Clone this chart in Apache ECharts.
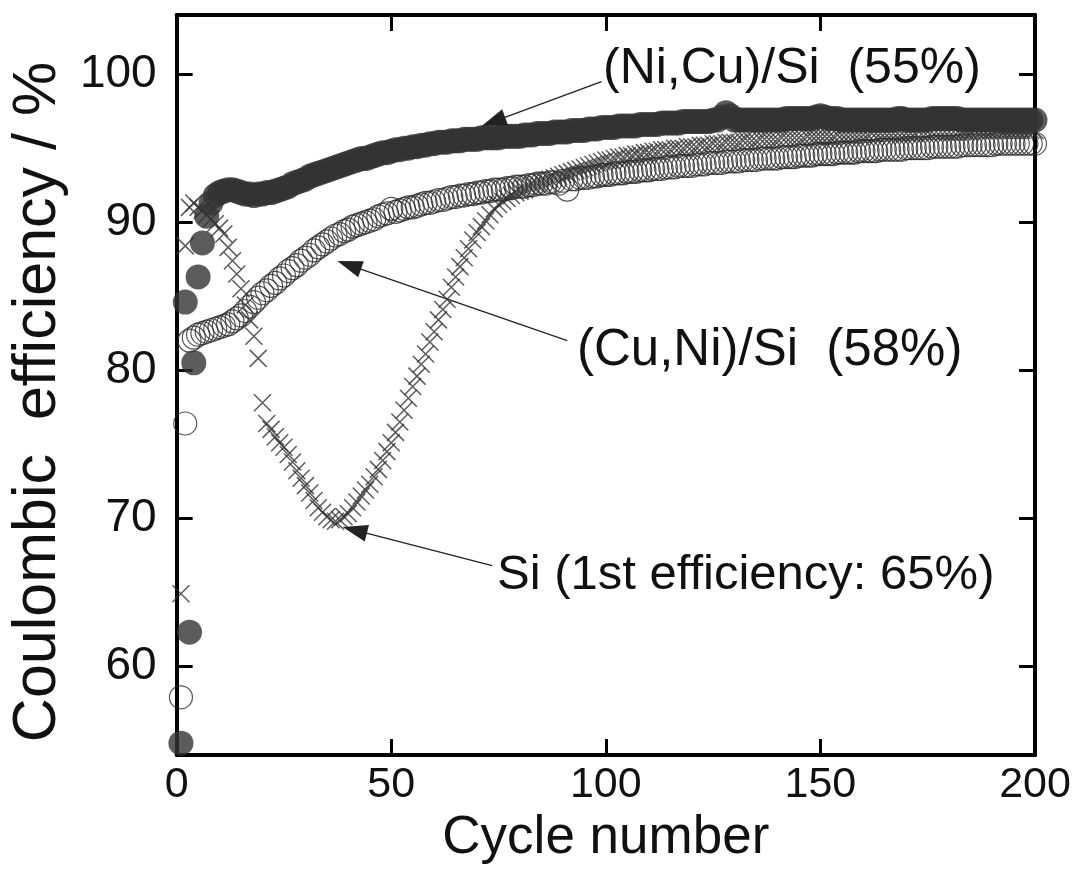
<!DOCTYPE html>
<html>
<head>
<meta charset="utf-8">
<script src="https://cdn.jsdelivr.net/npm/echarts@6/dist/echarts.min.js"></script>
<style>
  html, body { margin: 0; padding: 0; background: #fff; }
  #chart { width: 1081px; height: 874px; }
</style>
</head>
<body>
<div id="chart"></div>
<script>
// cycle 1..200
const niCuSi = [
  54.8, 84.6, 62.3, 80.5, 86.3, 88.6, 90.4, 91.3, 91.8, 92.0,
  92.1, 92.2, 92.2, 92.1, 92.0, 91.9, 91.9, 91.8, 91.9, 91.9,
  92.0, 92.0, 92.1, 92.2, 92.3, 92.4, 92.6, 92.7, 92.8, 92.9,
  93.1, 93.2, 93.3, 93.4, 93.5, 93.6, 93.7, 93.8, 93.9, 94.0,
  94.1, 94.2, 94.3, 94.3, 94.4, 94.5, 94.6, 94.7, 94.7, 94.8,
  94.9, 94.9, 95.0, 95.0, 95.1, 95.1, 95.2, 95.2, 95.3, 95.3,
  95.4, 95.4, 95.4, 95.5, 95.5, 95.5, 95.6, 95.6, 95.6, 95.6,
  95.7, 95.7, 95.7, 95.7, 95.7, 95.8, 95.8, 95.8, 95.8, 95.8,
  95.9, 95.9, 95.9, 96.0, 96.0, 96.0, 96.0, 96.1, 96.1, 96.1,
  96.1, 96.2, 96.2, 96.2, 96.2, 96.3, 96.3, 96.3, 96.4, 96.4,
  96.4, 96.4, 96.5, 96.5, 96.5, 96.5, 96.5, 96.6, 96.6, 96.6,
  96.6, 96.6, 96.7, 96.7, 96.7, 96.7, 96.7, 96.8, 96.8, 96.8,
  96.8, 96.8, 96.8, 96.8, 96.9, 96.9, 97.1, 97.4, 97.2, 96.9,
  96.9, 96.9, 96.9, 96.9, 96.9, 96.9, 96.9, 96.9, 96.9, 96.9,
  96.9, 97.0, 97.0, 97.0, 97.0, 97.0, 97.0, 97.0, 97.1, 97.2,
  97.1, 97.0, 97.0, 97.0, 96.9, 96.9, 96.9, 96.9, 96.9, 96.9,
  96.9, 96.9, 96.9, 96.9, 96.9, 96.9, 96.9, 97.0, 97.0, 96.9,
  96.9, 96.9, 96.9, 96.9, 96.9, 97.0, 97.0, 97.0, 97.0, 97.0,
  97.0, 97.0, 96.9, 96.9, 96.9, 96.9, 96.9, 96.9, 96.9, 96.9,
  96.9, 96.9, 96.9, 96.9, 96.9, 96.9, 96.9, 96.9, 96.9, 96.9
];
const cuNiSi = [
  57.9, 76.4, 82.0, 82.2, 82.4, 82.5, 82.6, 82.7, 82.8, 82.9,
  83.0, 83.1, 83.3, 83.5, 83.7, 84.0, 84.3, 84.6, 84.9, 85.2,
  85.4, 85.7, 85.9, 86.2, 86.4, 86.7, 86.9, 87.1, 87.4, 87.6,
  87.8, 88.1, 88.3, 88.5, 88.7, 88.9, 89.1, 89.2, 89.4, 89.5,
  89.7, 89.8, 89.9, 90.0, 90.1, 90.2, 90.4, 90.5, 90.6, 90.9,
  90.7, 90.8, 90.9, 91.0, 91.0, 91.1, 91.2, 91.3, 91.3, 91.4,
  91.5, 91.5, 91.6, 91.7, 91.7, 91.8, 91.8, 91.9, 91.9, 92.0,
  92.0, 92.1, 92.1, 92.2, 92.2, 92.2, 92.3, 92.3, 92.4, 92.4,
  92.4, 92.5, 92.5, 92.6, 92.6, 92.6, 92.7, 92.7, 92.6, 92.8,
  92.2, 92.9, 92.9, 93.0, 93.0, 93.0, 93.1, 93.1, 93.2, 93.2,
  93.2, 93.3, 93.3, 93.3, 93.4, 93.4, 93.4, 93.5, 93.5, 93.5,
  93.6, 93.6, 93.6, 93.7, 93.7, 93.7, 93.8, 93.8, 93.8, 93.8,
  93.9, 93.9, 93.9, 94.0, 94.0, 94.0, 94.0, 94.1, 94.1, 94.1,
  94.1, 94.2, 94.2, 94.2, 94.2, 94.3, 94.3, 94.3, 94.3, 94.3,
  94.4, 94.4, 94.4, 94.4, 94.5, 94.5, 94.5, 94.5, 94.6, 94.6,
  94.6, 94.6, 94.6, 94.7, 94.7, 94.7, 94.7, 94.7, 94.8, 94.8,
  94.8, 94.8, 94.8, 94.9, 94.9, 94.9, 94.9, 94.9, 94.9, 95.0,
  95.0, 95.0, 95.0, 95.0, 95.0, 95.1, 95.1, 95.1, 95.1, 95.1,
  95.1, 95.1, 95.2, 95.2, 95.2, 95.2, 95.2, 95.2, 95.2, 95.2,
  95.3, 95.3, 95.3, 95.3, 95.3, 95.3, 95.3, 95.3, 95.3, 95.3
];
const si = [
  64.9, 88.4, 91.0, 91.3, 91.0, 90.8, 90.5, 90.2, 89.9, 89.6,
  89.2, 88.3, 87.4, 86.5, 85.5, 84.4, 83.4, 82.3, 80.8, 77.8,
  76.4, 76.0, 75.5, 75.1, 74.8, 74.3, 73.8, 73.2, 72.7, 72.2,
  71.7, 71.2, 70.7, 70.4, 70.1, 69.9, 69.8, 69.9, 70.1, 70.3,
  70.7, 71.1, 71.5, 71.9, 72.3, 72.8, 73.3, 73.9, 74.5, 75.1,
  75.8, 76.5, 77.3, 78.1, 78.9, 79.6, 80.4, 81.1, 81.9, 82.6,
  83.4, 84.1, 84.8, 85.6, 86.3, 87.0, 87.6, 88.2, 88.8, 89.3,
  89.7, 90.1, 90.5, 90.9, 91.2, 91.4, 91.6, 91.8, 92.0, 92.1,
  92.2, 92.4, 92.5, 92.6, 92.7, 92.8, 92.9, 93.0, 93.1, 93.2,
  93.3, 93.4, 93.5, 93.6, 93.7, 93.8, 93.9, 94.0, 94.1, 94.2,
  94.2, 94.3, 94.4, 94.4, 94.5, 94.5, 94.6, 94.6, 94.7, 94.7,
  94.8, 94.8, 94.9, 94.9, 94.9, 95.0, 95.0, 95.0, 95.1, 95.1,
  95.1, 95.2, 95.2, 95.2, 95.3, 95.3, 95.3, 95.4, 95.4, 95.4,
  95.4, 95.5, 95.5, 95.5, 95.5, 95.6, 95.6, 95.6, 95.6, 95.6,
  95.7, 95.7, 95.7, 95.7, 95.7, 95.7, 95.8, 95.8, 95.8, 95.8,
  95.8, 95.8, 95.8, 95.9, 95.9, 95.9, 95.9, 95.9, 95.9, 95.9,
  95.9, 96.0, 96.0, 96.0, 96.0, 96.0, 96.0, 96.0, 96.0, 96.0,
  96.0, 96.0, 96.1, 96.1, 96.1, 96.1, 96.1, 96.1, 96.1, 96.1,
  96.1, 96.1, 96.1, 96.1, 96.1, 96.2, 96.2, 96.2, 96.2, 96.2,
  96.2, 96.2, 96.2, 96.2, 96.2, 96.2, 96.2, 96.2, 96.2, 96.2
];
const xTicks = [0, 50, 100, 150, 200];
const yTicks = [60, 70, 80, 90, 100];

// annotation arrows: [start, tip] in data coords
const arrowNiCu = [[99, 99.5], [73.8, 96.8]];
const arrowCuNi = [[91, 82.0], [40.2, 87.1]];
const arrowSi = [[73.5, 66.8], [41.5, 69.2]];

const FONT = '"Liberation Sans", Arial, sans-serif';

function toPoints(arr) {
  return arr.map((v, i) => [i + 1, v]);
}

function arrow(pair) {
  return [
    { coord: pair[0], symbol: 'none' },
    { coord: pair[1], symbol: 'triangle', symbolSize: [17, 25] }
  ];
}

const arrowLine = (pair) => ({
  silent: true,
  animation: false,
  symbol: ['none', 'triangle'],
  label: { show: false },
  lineStyle: { color: '#222', width: 1.3, type: 'solid' },
  emphasis: { disabled: true },
  data: [arrow(pair)]
});

const chart = echarts.init(document.getElementById('chart'));

const axisLineStyle = { show: true, onZero: false, lineStyle: { color: '#000', width: 4 } };
const tickStyle = { show: true, inside: true, length: 16, lineStyle: { color: '#000', width: 3 } };

chart.setOption({
  animation: false,
  backgroundColor: '#fff',
  grid: { left: 173, right: 46, top: 15, bottom: 119, containLabel: false },
  xAxis: [
    {
      type: 'value', position: 'bottom', min: 0, max: 200, interval: 50,
      axisLine: axisLineStyle,
      axisTick: tickStyle,
      splitLine: { show: false },
      axisLabel: { color: '#111', fontSize: 43, fontFamily: FONT, margin: 9 },
      name: 'Cycle number', nameLocation: 'middle', nameGap: 56,
      nameTextStyle: { color: '#111', fontSize: 53, fontFamily: FONT }
    },
    {
      type: 'value', position: 'top', min: 0, max: 200, interval: 50,
      axisLine: axisLineStyle,
      axisTick: tickStyle,
      splitLine: { show: false },
      axisLabel: { show: false }
    }
  ],
  yAxis: [
    {
      type: 'value', position: 'left', min: 54, max: 104,
      axisLine: axisLineStyle,
      axisTick: Object.assign({}, tickStyle, { customValues: yTicks }),
      splitLine: { show: false },
      axisLabel: { color: '#111', fontSize: 46, fontFamily: FONT, margin: 20, customValues: yTicks },
      name: 'Coulombic  efficiency / %', nameLocation: 'middle', nameGap: 106,
      nameTextStyle: { color: '#111', fontSize: 61, fontFamily: FONT, padding: [0, 34, 0, 0] }
    },
    {
      type: 'value', position: 'right', min: 54, max: 104,
      axisLine: axisLineStyle,
      axisTick: Object.assign({}, tickStyle, { customValues: yTicks }),
      splitLine: { show: false },
      axisLabel: { show: false, customValues: yTicks }
    }
  ],
  series: [
    {
      name: '(Cu,Ni)/Si',
      type: 'scatter',
      data: toPoints(cuNiSi),
      symbol: 'circle',
      symbolSize: 23,
      itemStyle: { color: 'rgba(255,255,255,0)', borderColor: '#2a2a2a', borderWidth: 1.2 },
      markLine: arrowLine(arrowCuNi),
      z: 2
    },
    {
      name: 'Si',
      type: 'scatter',
      data: toPoints(si),
      symbol: 'path://M0,0L10,10M10,0L0,10',
      symbolSize: 17,
      itemStyle: { color: 'none', borderColor: '#333', borderWidth: 1.5 },
      markLine: arrowLine(arrowSi),
      z: 3
    },
    {
      name: '(Ni,Cu)/Si',
      type: 'scatter',
      data: toPoints(niCuSi),
      symbol: 'circle',
      symbolSize: 25,
      itemStyle: { color: '#333' },
      markLine: arrowLine(arrowNiCu),
      z: 4
    }
  ],
  graphic: [
    { type: 'text', left: 603, top: 44, style: { text: '(Ni,Cu)/Si  (55%)', font: '50px ' + FONT, fill: '#111' } },
    { type: 'text', left: 577, top: 325, style: { text: '(Cu,Ni)/Si  (58%)', font: '51px ' + FONT, fill: '#111' } },
    { type: 'text', left: 497, top: 551, style: { text: 'Si (1st efficiency: 65%)', font: '49px ' + FONT, fill: '#111' } }
  ]
});
</script>
</body>
</html>
